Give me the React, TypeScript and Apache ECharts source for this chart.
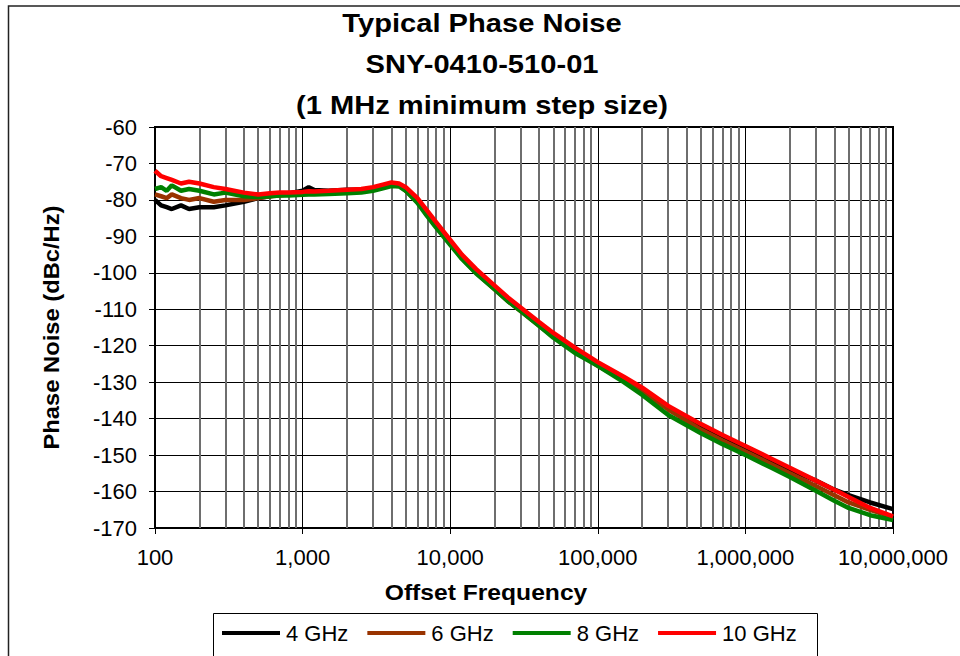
import React, { useEffect, useRef } from "react";
import * as echarts from "echarts";

const freqs = [100, 110, 120, 130, 150, 170, 200, 250, 300, 400, 500, 600, 700, 800, 1000, 1100, 1200, 1500, 2000, 2500, 3000, 3500, 4000, 4500, 5000, 6000, 7000, 8000, 10000, 12000, 15000, 20000, 25000, 30000, 40000, 50000, 70000, 100000, 150000, 200000, 300000, 500000, 700000, 1000000, 1500000, 2000000, 3000000, 4000000, 5000000, 7000000, 10000000];

const ghz4 = [-80, -81.5, -82, -82.5, -81.5, -82.5, -82, -82, -81.5, -80.5, -79.5, -79, -78.5, -78.2, -77.5, -76.5, -77.3, -77.5, -77.2, -77.2, -76.8, -76.2, -75.6, -75.8, -77, -80, -83.5, -86.5, -91.5, -95.5, -99.5, -104, -107.5, -110, -114, -117, -121, -125, -129, -132, -137, -142, -145, -148, -151.5, -154, -157, -159.5, -161, -163, -164.8];

const ghz6 = [-78.5, -79, -79.5, -78.5, -79.5, -80, -79.5, -80.5, -80, -80, -79.5, -79, -78.8, -78.5, -78.2, -77.8, -78, -78, -77.8, -77.5, -77, -76.5, -75.8, -76, -77.5, -80.5, -84, -87, -92, -96, -100, -104.5, -108, -110.5, -114.5, -117.5, -121.5, -125.5, -129.5, -132.5, -137.5, -143, -146, -149, -152.5, -155, -158.5, -161, -163, -165, -167];

const ghz8 = [-77, -76.5, -77.5, -76, -77.5, -77, -77.5, -78.5, -78, -79, -79.2, -79, -78.8, -78.8, -78.6, -78.5, -78.5, -78.4, -78.2, -78, -77.5, -76.8, -76.2, -76.3, -77.5, -80.8, -84.5, -87.5, -92.3, -96.2, -100.2, -104.5, -108, -110.5, -114.5, -117.8, -122, -125.5, -130, -133.5, -139, -144, -147, -150, -153.5, -156, -159.8, -162.5, -164.5, -166.5, -167.8];

const ghz10 = [-72, -73.5, -74, -74.5, -75.5, -75, -75.5, -76.5, -77, -78, -78.5, -78.2, -78, -78, -77.8, -77.6, -77.7, -77.5, -77.2, -77, -76.5, -75.8, -75.2, -75.5, -76.5, -79.5, -83, -86, -91, -95, -99, -103.5, -107, -109.5, -113.5, -116.5, -120.5, -124.5, -128.5, -131.5, -136.5, -141.5, -144.5, -147.5, -151, -153.5, -157, -159.5, -161.5, -164.5, -166.8];

const seriesNames = ["4 GHz", "6 GHz", "8 GHz", "10 GHz"];
const seriesColors = ["#000000", "#993300", "#008000", "#FF0000"];
const seriesValues = [ghz4, ghz6, ghz8, ghz10];

const minorGridValues = [2, 3, 4, 5, 6, 7, 8, 9].flatMap((m) => [100, 1000, 10000, 100000, 1000000].map((d) => m * d));

const titleLines = ["Typical Phase Noise", "SNY-0410-510-01", "(1 MHz minimum step size)"];
const yAxisTitle = "Phase Noise (dBc/Hz)";
const xAxisTitle = "Offset Frequency";

const FONT = '"Liberation Sans", Arial, Helvetica, sans-serif';

export default function App() {
  const ref = useRef<HTMLDivElement>(null);
  useEffect(() => {
    if (!ref.current) return;
    const chart = echarts.init(ref.current, undefined, { renderer: "svg" });
    const lineSeries = seriesNames.map((name, i) => ({
      name,
      type: "line",
      data: freqs.map((f, j) => [f, seriesValues[i][j]]),
      showSymbol: false,
      symbol: "none",
      lineStyle: { width: 4.5, color: seriesColors[i] },
      itemStyle: { color: seriesColors[i] },
      z: 5 + i,
      silent: true,
    }));
    const option = {
      animation: false,
      backgroundColor: "#ffffff",
      grid: {
        left: 155,
        top: 127,
        width: 738,
        height: 401,
        show: true,
        borderColor: "#000",
        borderWidth: 2,
        backgroundColor: "transparent",
      },
      xAxis: {
        type: "log",
        logBase: 10,
        min: 100,
        max: 10000000,
        splitNumber: 5,
        axisLine: { show: true, lineStyle: { color: "#000", width: 2 } },
        axisTick: { show: true, length: 6, lineStyle: { color: "#000", width: 1 } },
        axisLabel: {
          fontSize: 22,
          fontFamily: FONT,
          color: "#000",
          margin: 18,
          formatter: (v: number) => Math.round(v).toLocaleString("en-US"),
        },
        splitLine: { show: true, lineStyle: { color: "#000", width: 1 } },
        minorTick: { show: false },
        minorSplitLine: { show: false },
      },
      yAxis: {
        type: "value",
        min: -170,
        max: -60,
        interval: 10,
        axisLine: { show: true, lineStyle: { color: "#000", width: 2 } },
        axisTick: { show: true, length: 6, lineStyle: { color: "#000", width: 1 } },
        axisLabel: { fontSize: 22, fontFamily: FONT, color: "#000", margin: 18 },
        splitLine: { show: true, lineStyle: { color: "#000", width: 1 } },
      },
      legend: {
        show: true,
        data: seriesNames,
        left: 222,
        top: 622,
        padding: 0,
        icon: "rect",
        itemWidth: 58,
        itemHeight: 4,
        itemGap: 19,
        textStyle: { fontSize: 22, fontFamily: FONT, color: "#000", padding: [0, 0, 0, 1] },
        selectedMode: false,
      },
      graphic: [
        {
          type: "rect",
          shape: { x: 8.5, y: 6, width: 1000, height: 700 },
          style: { fill: "none", stroke: "#222", lineWidth: 1.5 },
          silent: true,
          z: -10,
        },
        {
          type: "rect",
          shape: { x: 213.5, y: 613.5, width: 604, height: 80 },
          style: { fill: "#fff", stroke: "#000", lineWidth: 1 },
          silent: true,
          z: -1,
        },
        ...titleLines.map((t, i) => ({
          type: "text",
          x: 482,
          y: 23 + i * 41,
          scaleX: 1.12,
          style: {
            text: t,
            fontSize: 26,
            fontWeight: "bold",
            fontFamily: FONT,
            fill: "#000",
            textAlign: "center",
            textVerticalAlign: "middle",
          },
          silent: true,
        })),
        {
          type: "text",
          x: 51.5,
          y: 327.5,
          rotation: Math.PI / 2,
          scaleX: 1.08,
          style: {
            text: yAxisTitle,
            fontSize: 22,
            fontWeight: "bold",
            fontFamily: FONT,
            fill: "#000",
            textAlign: "center",
            textVerticalAlign: "middle",
          },
          silent: true,
        },
        {
          type: "text",
          x: 486,
          y: 592,
          scaleX: 1.12,
          style: {
            text: xAxisTitle,
            fontSize: 22,
            fontWeight: "bold",
            fontFamily: FONT,
            fill: "#000",
            textAlign: "center",
            textVerticalAlign: "middle",
          },
          silent: true,
        },
      ],
      series: [
        {
          name: "minor-grid",
          type: "line",
          data: [],
          silent: true,
          z: 1,
          markLine: {
            silent: true,
            symbol: ["none", "none"],
            label: { show: false },
            lineStyle: { color: "#6e6e6e", width: 2, type: "solid", opacity: 1 },
            emphasis: { disabled: true },
            data: minorGridValues.map((v) => ({ xAxis: v })),
          },
        },
        ...lineSeries,
      ],
    };
    chart.setOption(option as any);
    return () => chart.dispose();
  }, []);
  return <div ref={ref} style={{ position: "absolute", left: 0, top: 0, width: 960, height: 656 }} />;
}
